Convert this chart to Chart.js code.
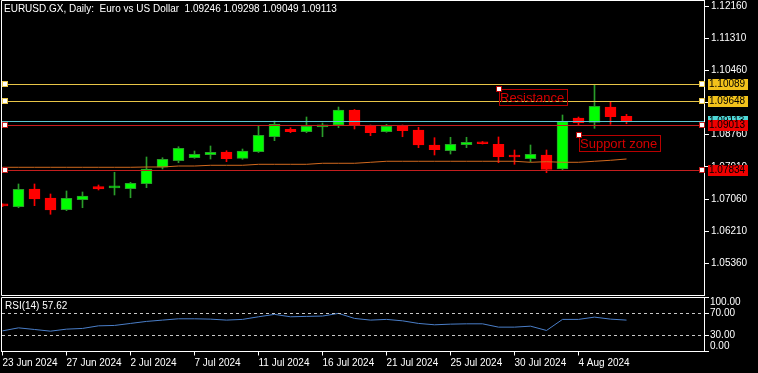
<!DOCTYPE html>
<html>
<head>
<meta charset="utf-8">
<script src="https://cdn.jsdelivr.net/npm/chart.js@4/dist/chart.umd.min.js"></script>
<style>
  html, body { margin: 0; padding: 0; background: #000; }
  #wrap { position: relative; width: 758px; height: 373px; overflow: hidden; background: #000; }
  #main { position: absolute; left: 0; top: 0; }
  #rsi { position: absolute; left: 0; top: 296px; }
</style>
</head>
<body>
<div id="wrap">
  <canvas id="main" width="758" height="296"></canvas>
  <canvas id="rsi" width="758" height="77"></canvas>
</div>
<script>
// EURUSD.GX daily candles, 23 Jun - 7 Aug 2024
const symbolTitle = "EURUSD.GX, Daily:  Euro vs US Dollar";
const dates = [
  "23 Jun 2024", "24 Jun 2024", "25 Jun 2024", "26 Jun 2024", "27 Jun 2024", "28 Jun 2024",
  "30 Jun 2024", "1 Jul 2024", "2 Jul 2024", "3 Jul 2024", "4 Jul 2024", "5 Jul 2024",
  "7 Jul 2024", "8 Jul 2024", "9 Jul 2024", "10 Jul 2024", "11 Jul 2024", "12 Jul 2024",
  "14 Jul 2024", "15 Jul 2024", "16 Jul 2024", "17 Jul 2024", "18 Jul 2024", "19 Jul 2024",
  "21 Jul 2024", "22 Jul 2024", "23 Jul 2024", "24 Jul 2024", "25 Jul 2024", "26 Jul 2024",
  "28 Jul 2024", "29 Jul 2024", "30 Jul 2024", "31 Jul 2024", "1 Aug 2024", "2 Aug 2024",
  "4 Aug 2024", "5 Aug 2024", "6 Aug 2024", "7 Aug 2024"
];
const open = [
  1.06905, 1.06857, 1.07325, 1.07087, 1.06777, 1.07042, 1.07385, 1.07353, 1.07332, 1.07464,
  1.07898, 1.08072, 1.08151, 1.08231, 1.08302, 1.08135, 1.08310, 1.08706, 1.08902, 1.08839,
  1.08968, 1.09016, 1.09412, 1.08997, 1.08839, 1.08997, 1.08883, 1.08487, 1.08336, 1.08495,
  1.08566, 1.08506, 1.08196, 1.08125, 1.08223, 1.07853, 1.09201, 1.09087, 1.09491, 1.09246
];
const high = [
  1.06930, 1.07457, 1.07457, 1.07192, 1.07272, 1.07245, 1.07430, 1.07766, 1.07501, 1.08170,
  1.08151, 1.08442, 1.08328, 1.08461, 1.08336, 1.08381, 1.08997, 1.09121, 1.08944, 1.09227,
  1.09068, 1.09491, 1.09425, 1.09016, 1.09034, 1.09016, 1.08955, 1.08680, 1.08691, 1.08691,
  1.08579, 1.08699, 1.08355, 1.08487, 1.08355, 1.09280, 1.09227, 1.10091, 1.09631, 1.09298
];
const low = [
  1.06860, 1.06830, 1.06883, 1.06656, 1.06751, 1.06830, 1.07298, 1.07166, 1.07094, 1.07359,
  1.07853, 1.08019, 1.08135, 1.08117, 1.08046, 1.08109, 1.08289, 1.08601, 1.08812, 1.08812,
  1.08706, 1.08944, 1.08910, 1.08733, 1.08823, 1.08706, 1.08416, 1.08223, 1.08249, 1.08416,
  1.08513, 1.08019, 1.07977, 1.08046, 1.07755, 1.07826, 1.09016, 1.08928, 1.09034, 1.09049
];
const close = [
  1.06880, 1.07317, 1.07060, 1.06769, 1.07079, 1.07139, 1.07325, 1.07364, 1.07475, 1.07853,
  1.08109, 1.08400, 1.08241, 1.08294, 1.08125, 1.08328, 1.08743, 1.09034, 1.08839, 1.08981,
  1.08973, 1.09412, 1.08997, 1.08812, 1.08981, 1.08865, 1.08487, 1.08363, 1.08506, 1.08558,
  1.08521, 1.08178, 1.08170, 1.08241, 1.07845, 1.09103, 1.09076, 1.09510, 1.09235, 1.09113
];
const maValues = [
  1.07898, 1.07898, 1.07898, 1.07898, 1.07898, 1.07898, 1.07898, 1.07898, 1.07898, 1.07906,
  1.07906, 1.07932, 1.07932, 1.07951, 1.07951, 1.07951, 1.07977, 1.07977, 1.07977, 1.07977,
  1.08004, 1.08004, 1.08004, 1.08030, 1.08057, 1.08057, 1.08057, 1.08057, 1.08057, 1.08057,
  1.08057, 1.08057, 1.08057, 1.08030, 1.08046, 1.08030, 1.08030, 1.08057, 1.08083, 1.08117
];
const rsiValues = [
  37.9, 43.4, 40.4, 37.3, 41.0, 42.3, 47.1, 47.8, 51.5, 55.2,
  57.6, 60.0, 60.0, 59.4, 57.6, 58.9, 63.7, 68.1, 63.7, 64.4,
  65.0, 69.9, 60.7, 57.6, 58.9, 56.3, 51.5, 49.0, 50.2, 50.8,
  50.8, 44.7, 44.7, 46.5, 38.6, 58.9, 58.9, 63.1, 59.4, 57.62
];

const priceTicks = [1.12160, 1.11310, 1.10460, 1.09610, 1.08760, 1.07910, 1.07060, 1.06210, 1.05360];
const rsiTicks = [100, 70, 30, 0];
const rsiLevels = [70, 30];
const xTickBars = [0, 4, 8, 12, 16, 20, 24, 28, 32, 36];

const resistanceLevels = [1.10089, 1.09648];
const supportLevels = [1.09013, 1.07834];
const noteTexts = ["Resistance", "Support zone"];
const noteBars = [31, 36];
const notePrices = [1.09980, 1.08743];

// view window (16 px per bar)
const X_MIN = -0.09375, X_MAX = 43.84375;
const P_MIN = 1.04523, P_MAX = 1.12319;

const FONT = '"Liberation Sans", Arial, sans-serif';
const AXIS_SIZE = 10;
Chart.defaults.font.family = FONT;
Chart.defaults.font.size = AXIS_SIZE;
Chart.defaults.color = "#ffffff";

const UP_FILL = "#00ff00", UP_LINE = "#2a9d2a";
const DN_FILL = "#ff0000", DN_LINE = "#ff0000";
const YELLOW_LINE = "#e8c547", YELLOW_TAG = "#f2c21b";
const RED_LINE = "#c41e1e", RED_TAG = "#ee0000";
const CYAN_LINE = "#5ac8d2", CYAN_TAG = "#4fd8d8";

const bars = dates.map((d, i) => i);
const isUp = bars.map(i => close[i] >= open[i]);

// Chart.js reserves half a label of room at the axis ends; MT does not
function noAxisPadding(s) {
  s.paddingTop = 0;
  s.paddingBottom = 0;
  s.paddingLeft = 0;
  s.paddingRight = 0;
}

function priceTag(ctx, area, py, text, bg) {
  const y = Math.round(py);
  ctx.fillStyle = bg;
  ctx.fillRect(area.right + 4, y - 5, 40, 11);
  ctx.fillStyle = "#000";
  ctx.textAlign = "left";
  ctx.textBaseline = "middle";
  ctx.fillText(text, area.right + 5, y + 0.5);
}

function anchor(ctx, cx, cy, border) {
  ctx.fillStyle = "#ffffff";
  ctx.fillRect(cx - 2, cy - 2, 5, 5);
  ctx.strokeStyle = border;
  ctx.lineWidth = 1;
  ctx.strokeRect(cx - 2.5, cy - 2.5, 5, 5);
}

const mainOverlay = {
  id: "mainOverlay",
  afterDraw(chart) {
    const { ctx, chartArea: a, scales } = chart;
    const ys = scales.y, xs = scales.x;
    ctx.save();
    ctx.font = AXIS_SIZE + "px " + FONT;

    // panel frame
    ctx.strokeStyle = "#ffffff";
    ctx.lineWidth = 1;
    ctx.beginPath();
    ctx.moveTo(a.left + 0.5, a.bottom + 0.5);
    ctx.lineTo(a.left + 0.5, 0.5);
    ctx.lineTo(a.right + 0.5, 0.5);
    ctx.moveTo(a.left + 0.5, a.bottom + 0.5);
    ctx.lineTo(a.right + 0.5, a.bottom + 0.5);
    ctx.stroke();

    const hline = (p, color) => {
      const y = Math.round(ys.getPixelForValue(p)) + 0.5;
      ctx.strokeStyle = color;
      ctx.beginPath();
      ctx.moveTo(a.left + 1, y);
      ctx.lineTo(a.right, y);
      ctx.stroke();
      return y;
    };

    const bid = close[close.length - 1];
    hline(bid, CYAN_LINE);
    resistanceLevels.forEach(p => {
      const y = hline(p, YELLOW_LINE);
      anchor(ctx, a.left + 4, Math.floor(y), YELLOW_LINE);
      anchor(ctx, a.right - 2, Math.floor(y), YELLOW_LINE);
    });
    supportLevels.forEach(p => {
      const y = hline(p, RED_LINE);
      anchor(ctx, a.left + 4, Math.floor(y), RED_LINE);
      anchor(ctx, a.right - 2, Math.floor(y), RED_LINE);
    });

    // price tags on the axis
    priceTag(ctx, a, ys.getPixelForValue(bid), bid.toFixed(5), CYAN_TAG);
    resistanceLevels.forEach(p => priceTag(ctx, a, ys.getPixelForValue(p), p.toFixed(5), YELLOW_TAG));
    supportLevels.forEach(p => priceTag(ctx, a, ys.getPixelForValue(p), p.toFixed(5), RED_TAG));

    // text notes
    ctx.font = "13px " + FONT;
    noteTexts.forEach((t, i) => {
      const ax = Math.round(xs.getPixelForValue(noteBars[i]));
      const ay = Math.round(ys.getPixelForValue(notePrices[i]));
      const w = Math.ceil(ctx.measureText(t).width) + 3;
      ctx.strokeStyle = "#b80000";
      ctx.strokeRect(ax + 0.5, ay + 0.5, w, 16);
      ctx.fillStyle = "#d40000";
      ctx.textAlign = "left";
      ctx.textBaseline = "alphabetic";
      ctx.fillText(t, ax + 1, ay + 13);
      anchor(ctx, ax, ay, "#b80000");
    });

    // title
    ctx.font = "10px " + FONT;
    ctx.fillStyle = "#ffffff";
    ctx.textAlign = "left";
    ctx.textBaseline = "middle";
    const n = close.length - 1;
    const ohlc = [open[n], high[n], low[n], close[n]].map(v => v.toFixed(5)).join(" ");
    ctx.fillText(symbolTitle + "  " + ohlc, 4, 9);
    ctx.restore();
  }
};

new Chart(document.getElementById("main"), {
  type: "bar",
  data: {
    datasets: [
      {
        type: "line",
        label: "MA",
        data: bars.map(i => ({ x: i, y: maValues[i] })),
        borderColor: "#d2691e",
        borderWidth: 1,
        pointRadius: 0,
        tension: 0,
        order: 0
      },
      {
        label: "Body",
        data: bars.map(i => ({ x: i, y: [open[i], close[i]] })),
        backgroundColor: bars.map(i => isUp[i] ? UP_FILL : DN_FILL),
        borderColor: bars.map(i => isUp[i] ? UP_LINE : DN_LINE),
        borderWidth: 1,
        borderSkipped: false,
        barThickness: 11,
        minBarLength: 2,
        grouped: false,
        order: 1
      },
      {
        label: "Wick",
        data: bars.map(i => ({ x: i, y: [low[i], high[i]] })),
        backgroundColor: bars.map(i => isUp[i] ? UP_LINE : DN_LINE),
        borderWidth: 0,
        barThickness: 1,
        grouped: false,
        order: 2
      }
    ]
  },
  options: {
    responsive: false,
    animation: false,
    events: [],
    layout: { padding: { left: 1, top: 0, right: 0, bottom: 1 } },
    plugins: { legend: { display: false }, tooltip: { enabled: false } },
    scales: {
      x: { type: "linear", min: X_MIN, max: X_MAX, offset: false, display: false },
      y: {
        type: "linear",
        position: "right",
        min: P_MIN,
        max: P_MAX,
        afterFit: s => { s.width = 54; noAxisPadding(s); },
        afterBuildTicks: s => { s.ticks = priceTicks.map(v => ({ value: v })); },
        ticks: { color: "#ffffff", padding: 2, autoSkip: false, callback: v => Number(v).toFixed(5) },
        grid: { drawOnChartArea: false, color: "#ffffff", tickLength: 5 },
        border: { color: "#ffffff" }
      }
    }
  },
  plugins: [mainOverlay]
});

const rsiOverlay = {
  id: "rsiOverlay",
  afterDraw(chart) {
    const { ctx, chartArea: a, scales } = chart;
    const ys = scales.y;
    ctx.save();
    ctx.strokeStyle = "#ffffff";
    ctx.lineWidth = 1;
    ctx.beginPath();
    ctx.moveTo(a.left + 0.5, a.bottom + 0.5);
    ctx.lineTo(a.left + 0.5, a.top + 0.5);
    ctx.lineTo(a.right + 0.5, a.top + 0.5);
    ctx.stroke();

    ctx.strokeStyle = "#c8c8c8";
    ctx.setLineDash([3, 3]);
    rsiLevels.forEach(v => {
      const y = Math.round(ys.getPixelForValue(v)) + 0.5;
      ctx.beginPath();
      ctx.moveTo(a.left + 1, y);
      ctx.lineTo(a.right, y);
      ctx.stroke();
    });
    ctx.setLineDash([]);

    ctx.font = AXIS_SIZE + "px " + FONT;
    ctx.fillStyle = "#ffffff";
    ctx.textAlign = "left";
    ctx.textBaseline = "middle";
    rsiTicks.forEach(v => {
      let y = ys.getPixelForValue(v);
      y = Math.min(Math.max(y, a.top + 5.5), a.bottom - 5);
      ctx.fillText(v.toFixed(2), a.right + 6, y);
    });
    ctx.fillText("RSI(14) " + rsiValues[rsiValues.length - 1].toFixed(2), 5, 10.5);
    ctx.restore();
  }
};

new Chart(document.getElementById("rsi"), {
  type: "line",
  data: {
    datasets: [{
      label: "RSI(14)",
      data: bars.map(i => ({ x: i, y: rsiValues[i] })),
      borderColor: "#4a7ec8",
      borderWidth: 1,
      pointRadius: 0,
      tension: 0
    }]
  },
  options: {
    responsive: false,
    animation: false,
    events: [],
    layout: { padding: { left: 1, top: 1, right: 0, bottom: 0 } },
    plugins: { legend: { display: false }, tooltip: { enabled: false } },
    scales: {
      x: {
        type: "linear",
        min: X_MIN,
        max: X_MAX,
        offset: false,
        afterFit: s => { s.height = 21.5; noAxisPadding(s); },
        afterBuildTicks: s => { s.ticks = xTickBars.map(v => ({ value: v })); },
        ticks: { color: "#ffffff", align: "start", maxRotation: 0, autoSkip: false, padding: 2, callback: v => dates[v] },
        grid: { drawOnChartArea: false, color: "#ffffff", tickLength: 4 },
        border: { color: "#ffffff" }
      },
      y: {
        type: "linear",
        position: "right",
        min: 0,
        max: 100,
        afterFit: s => { s.width = 54; noAxisPadding(s); },
        afterBuildTicks: s => { s.ticks = rsiTicks.map(v => ({ value: v })); },
        ticks: { display: false },
        grid: { drawOnChartArea: false, color: "#ffffff", tickLength: 5 },
        border: { color: "#ffffff" }
      }
    }
  },
  plugins: [rsiOverlay]
});
</script>
</body>
</html>
